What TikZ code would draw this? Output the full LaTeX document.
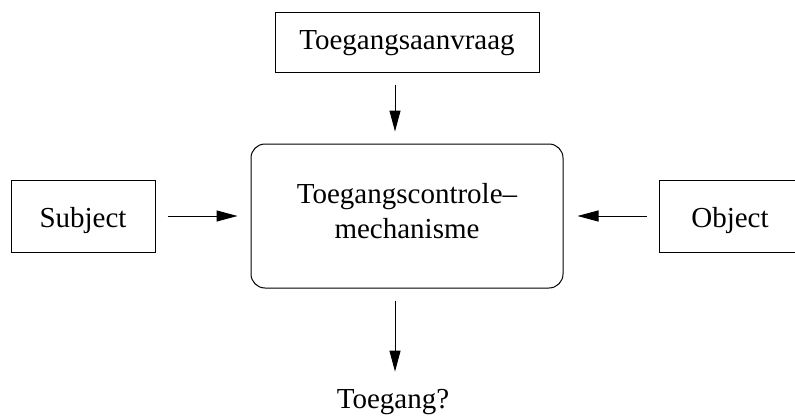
\documentclass[tikz,border=0pt]{standalone}
\usepackage{fontspec}
\setmainfont{Liberation Serif}
\usetikzlibrary{arrows.meta}
\begin{document}
\begin{tikzpicture}[x=1pt,y=-1pt,
  box/.style={draw,line width=1pt,inner sep=0pt},
  lbl/.style={anchor=base,inner sep=0pt,font=\fontsize{29}{35}\selectfont},
  arr/.style={line width=1pt,-{Triangle[length=21pt,width=11pt]}}]
\useasboundingbox (0,0) rectangle (795,415);
\clip (0,0) rectangle (795,415);
\node[box,minimum width=264pt,minimum height=60pt] (top) at (407,42) {};
\node[box,minimum width=312pt,minimum height=144pt,rounded corners=14pt] (ctrl) at (407,216) {};
\node[box,minimum width=144pt,minimum height=72pt] (subj) at (83,216) {};
\node[box,minimum width=146pt,minimum height=72pt] (obj) at (732,216) {};
\node[lbl] (ttop) at (407,49) {Toegangsaanvraag};
\node[lbl] (tc1) at (407,203) {Toegangscontrole–};
\node[lbl] (tc2) at (407,238) {mechanisme};
\node[lbl] (tsubj) at (83,227) {Subject};
\node[lbl] (tobj) at (730,227) {Object};
\node[lbl,inner sep=0pt] (ans) at (393,408) {Toegang?};
\draw[arr,shorten <=12pt,shorten >=12pt] ([xshift=-12pt]top.south) -- ([xshift=-12pt]ctrl.north);
\draw[arr,shorten <=12pt,shorten >=13pt] (subj.east) -- (ctrl.west);
\draw[arr,shorten <=12pt,shorten >=14pt] (obj.west) -- (ctrl.east);
\draw[arr,shorten <=12pt,shorten >=17pt] ([xshift=-12pt]ctrl.south) -- ([xshift=2pt]ans.north);
\end{tikzpicture}
\end{document}
